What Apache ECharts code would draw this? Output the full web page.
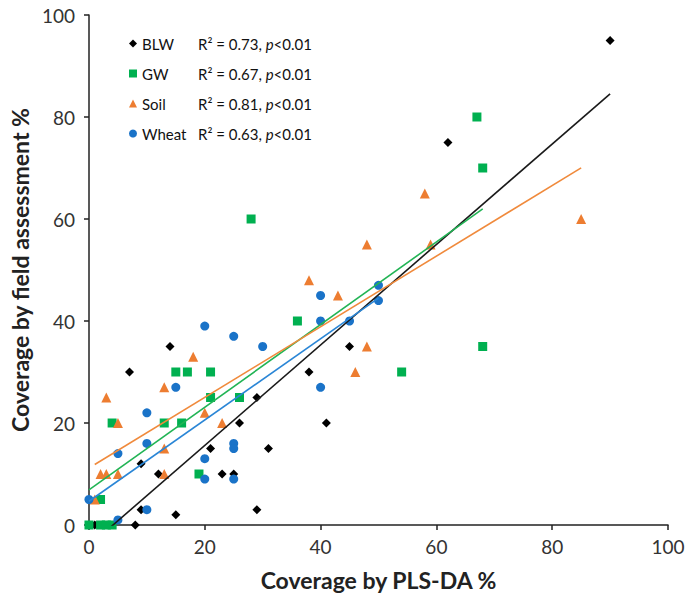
<!DOCTYPE html>
<html>
<head>
<meta charset="utf-8">
<script src="https://cdn.jsdelivr.net/npm/echarts@6/dist/echarts.min.js"></script>
<style>
  html, body { margin: 0; padding: 0; background: #fff; }
  #chart { width: 688px; height: 596px; }
</style>
</head>
<body>
<div id="chart"></div>
<script>
// Coverage (%) estimated by PLS-DA (x) vs. field assessment (y)
const seriesNames = ['BLW', 'GW', 'Soil', 'Wheat'];
const rSquared = ['0.73', '0.67', '0.81', '0.63'];
const pValueText = '<0.01';

const blwPoints = [
  [90, 95], [62, 75], [45, 35], [38, 30], [41, 20], [29, 25], [31, 15], [29, 3],
  [26, 20], [25, 10], [23, 10], [21, 15], [14, 35], [7, 30], [12, 10], [9, 12],
  [9, 3], [15, 2], [8, 0], [1, 0]
];
const gwPoints = [
  [67, 80], [68, 70], [68, 35], [54, 30], [28, 60], [36, 40], [26, 25], [21, 30],
  [21, 25], [17, 30], [15, 30], [16, 20], [13, 20], [4, 20], [19, 10], [2, 5],
  [0, 0], [2, 0], [3, 0], [4, 0]
];
const soilPoints = [
  [85, 60], [58, 65], [59, 55], [48, 55], [38, 48], [43, 45], [48, 35], [46, 30],
  [18, 33], [13, 27], [3, 25], [5, 20], [20, 22], [23, 20], [13, 15], [13, 10],
  [5, 10], [3, 10], [2, 10], [1, 5]
];
const wheatPoints = [
  [50, 47], [50, 44], [40, 45], [40, 40], [45, 40], [40, 27], [30, 35], [25, 37],
  [20, 39], [15, 27], [10, 22], [10, 16], [5, 14], [20, 13], [20, 9], [25, 16],
  [25, 15], [25, 9], [10, 3], [5, 1], [0, 5]
];

const pointSets = [blwPoints, gwPoints, soilPoints, wheatPoints];
const colors = ['#000000', '#00b050', '#ed7d31', '#1a73c8'];
const lineColors = ['#1a1a1a', '#22b455', '#f08a3c', '#2a86d6'];
const symbols = ['diamond', 'rect', 'triangle', 'circle'];
const symbolSizes = [9, 9, 10, 9];

// Ordinary least-squares trendline spanning the data's x range
function trendline(points) {
  const n = points.length;
  let sx = 0, sy = 0;
  points.forEach(p => { sx += p[0]; sy += p[1]; });
  const mx = sx / n, my = sy / n;
  let sxy = 0, sxx = 0;
  points.forEach(p => { sxy += (p[0] - mx) * (p[1] - my); sxx += (p[0] - mx) * (p[0] - mx); });
  const slope = sxy / sxx;
  const intercept = my - slope * mx;
  const xs = points.map(p => p[0]);
  const x0 = Math.min.apply(null, xs), x1 = Math.max.apply(null, xs);
  return [[x0, intercept + slope * x0], [x1, intercept + slope * x1]];
}

const font = 'Lato, "Open Sans", sans-serif';

const scatterSeries = seriesNames.map((name, i) => ({
  name: name,
  type: 'scatter',
  data: pointSets[i],
  symbol: symbols[i],
  symbolSize: symbolSizes[i],
  itemStyle: { color: colors[i], opacity: 1 },
  z: 2
}));

const lineSeries = seriesNames.map((name, i) => ({
  name: name + ' fit',
  type: 'line',
  data: trendline(pointSets[i]),
  showSymbol: false,
  clip: true,
  lineStyle: { color: lineColors[i], width: 1.6 },
  itemStyle: { color: lineColors[i] },
  z: 3,
  silent: true
}));

const chart = echarts.init(document.getElementById('chart'), null, { renderer: 'svg' });
chart.setOption({
  animation: false,
  backgroundColor: '#ffffff',
  grid: { left: 87, right: 20, top: 15, bottom: 71 },
  legend: {
    data: seriesNames,
    orient: 'vertical',
    left: 124,
    top: 30,
    itemWidth: 8,
    itemHeight: 8,
    itemGap: 13,
    textStyle: {
      fontFamily: font,
      fontSize: 15,
      color: '#111',
      lineHeight: 17,
      rich: {
        n: { width: 56, fontFamily: font, fontSize: 15, color: '#111' },
        r: { fontFamily: font, fontSize: 15, color: '#111' },
        i: { fontFamily: font, fontSize: 15, color: '#111', fontStyle: 'italic' }
      }
    },
    formatter: function (name) {
      const i = seriesNames.indexOf(name);
      return '{n|' + name + '}{r|R\u00B2 = ' + rSquared[i] + ', }{i|p}{r|' + pValueText + '}';
    }
  },
  xAxis: {
    type: 'value',
    min: 0,
    max: 100,
    interval: 20,
    name: 'Coverage by PLS-DA %',
    nameLocation: 'middle',
    nameGap: 43,
    nameTextStyle: { fontFamily: font, fontSize: 23, fontWeight: 'bold', color: '#222' },
    axisLine: { show: true, lineStyle: { color: '#222', width: 1.5 } },
    axisTick: { show: true, inside: false, length: 5, lineStyle: { color: '#222', width: 1.5 } },
    axisLabel: { fontFamily: font, fontSize: 19, color: '#333', margin: 12 },
    splitLine: { show: false }
  },
  yAxis: {
    type: 'value',
    min: 0,
    max: 100,
    interval: 20,
    name: 'Coverage by field assessment %',
    nameLocation: 'middle',
    nameGap: 55,
    nameTextStyle: { fontFamily: font, fontSize: 23, fontWeight: 'bold', color: '#222' },
    axisLine: { show: true, lineStyle: { color: '#222', width: 1.5 } },
    axisTick: { show: true, inside: false, length: 5, lineStyle: { color: '#222', width: 1.5 } },
    axisLabel: { fontFamily: font, fontSize: 19, color: '#333', margin: 14 },
    splitLine: { show: false }
  },
  series: scatterSeries.concat(lineSeries)
});
</script>
</body>
</html>
